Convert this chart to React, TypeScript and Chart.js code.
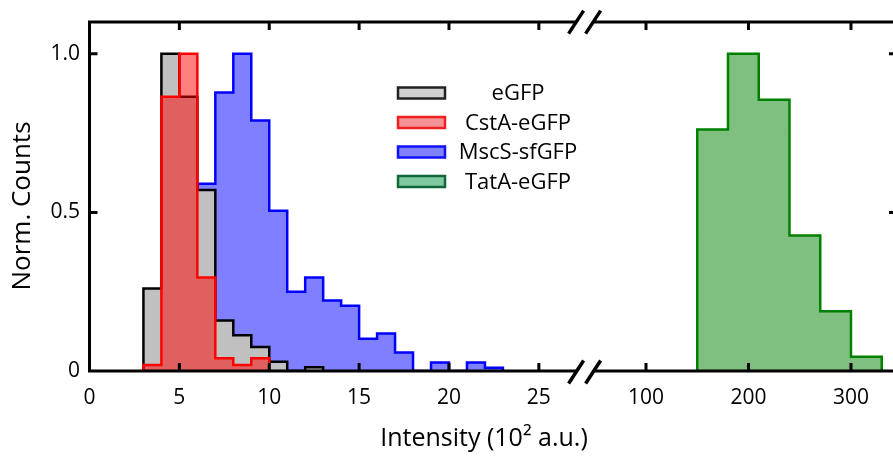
import React, { useEffect, useRef } from 'react';
import { Chart, registerables } from 'chart.js';

Chart.register(...registerables);

// ---------- data ----------
const SERIES_NAMES = ['eGFP', 'CstA-eGFP', 'MscS-sfGFP', 'TatA-eGFP'];

const LOW_BIN_WIDTH = 1;
const EGFP_BIN_START = 3;
const EGFP_COUNTS = [0.26, 1.0, 0.865, 0.571, 0.159, 0.1125, 0.076, 0.029, 0, 0.0115];
const CSTA_BIN_START = 3;
const CSTA_COUNTS = [0.019, 0.865, 1.0, 0.295, 0.04, 0.019, 0.04];
const MSCS_BIN_START = 5;
const MSCS_COUNTS = [0.35, 0.59, 0.878, 1.0, 0.79, 0.505, 0.25, 0.295, 0.222, 0.206, 0.102, 0.118, 0.058, 0, 0.027, 0, 0.027, 0.0105];
const TATA_BIN_START = 150;
const TATA_BIN_WIDTH = 30;
const TATA_COUNTS = [0.761, 1.0, 0.855, 0.427, 0.188, 0.045];

const X_TICKS = [0, 5, 10, 15, 20, 25, 100, 200, 300];
const X_TICK_LABELS = ['0', '5', '10', '15', '20', '25', '100', '200', '300'];
const Y_TICKS = [0, 0.5, 1.0];
const Y_TICK_LABELS = ['0', '0.5', '1.0'];

const X_TITLE = 'Intensity (10² a.u.)';
const Y_TITLE = 'Norm. Counts';

// broken axis: left segment 0..LEFT_MAX, right segment RIGHT_MIN..RIGHT_MAX
const LEFT_MAX = 27.49;
const RIGHT_MIN = 39.13;
const RIGHT_MAX = 341;
const RIGHT_SCALE = 0.05702;

function toU(v: number): number {
  if (v <= LEFT_MAX) return v;
  return LEFT_MAX + (v - RIGHT_MIN) * RIGHT_SCALE;
}
const X_MAX_U = toU(RIGHT_MAX);

function histPoints(start: number, width: number, counts: number[]) {
  const pts: { x: number; y: number }[] = [{ x: toU(start), y: 0 }];
  counts.forEach((c, i) => pts.push({ x: toU(start + i * width), y: c }));
  pts.push({ x: toU(start + counts.length * width), y: 0 });
  return pts;
}

// ---------- styles ----------
const FONT = "'Open Sans', 'DejaVu Sans', sans-serif";
const LINE_COLORS = ['#000000', '#ff0000', '#0000ff', '#008000'];
const FILL_COLORS = ['#c0c0c0', 'rgba(255,0,0,0.5)', 'rgba(0,0,255,0.5)', 'rgba(0,128,0,0.5)'];
const LEGEND_FILLS = ['#d2d2d2', '#f59296', '#8282ff', '#80c8a0'];
const LEGEND_BORDERS = ['#222222', '#ee2020', '#1010ff', '#106838'];
const DRAW_ORDER = [1, 0, 2, 3];

const framePlugin = {
  id: 'frame',
  afterDraw(chart: any) {
    const { ctx, chartArea } = chart;
    const xs = chart.scales.x;
    const ys = chart.scales.y;
    const L = chartArea.left;
    const T = chartArea.top;
    const B = chartArea.bottom;
    const R = chartArea.right;
    const RB = R + 4; // right border sits just outside the canvas
    ctx.save();
    ctx.strokeStyle = '#000';
    ctx.lineWidth = 3;
    ctx.lineCap = 'butt';
    // frame
    ctx.beginPath();
    ctx.moveTo(L, B);
    ctx.lineTo(R + 6, B);
    ctx.moveTo(L, T);
    ctx.lineTo(R + 6, T);
    ctx.moveTo(L, T - 1.5);
    ctx.lineTo(L, B + 1.5);
    ctx.moveTo(RB, T);
    ctx.lineTo(RB, B);
    ctx.stroke();
    // ticks (inward on all four sides)
    const tl = 8;
    ctx.beginPath();
    X_TICKS.forEach((v) => {
      if (v === 0) return;
      const px = xs.getPixelForValue(toU(v));
      ctx.moveTo(px, B);
      ctx.lineTo(px, B - tl);
      ctx.moveTo(px, T);
      ctx.lineTo(px, T + tl);
    });
    Y_TICKS.forEach((v) => {
      if (v === 0) return;
      const py = ys.getPixelForValue(v);
      ctx.moveTo(L, py);
      ctx.lineTo(L + tl, py);
      ctx.moveTo(RB, py);
      ctx.lineTo(RB - tl, py);
    });
    ctx.stroke();
    // axis breaks
    const xb = xs.getPixelForValue(toU(LEFT_MAX)) + 1;
    const hx = 7.5;
    const hy = 11.5;
    const k = hx / hy;
    [B + 1, T].forEach((y) => {
      const c0 = xb - 8.5;
      const c1 = xb + 8.5;
      ctx.fillStyle = '#fff';
      ctx.beginPath();
      ctx.moveTo(c0 + 3 * k, y - 3);
      ctx.lineTo(c1 + 3 * k, y - 3);
      ctx.lineTo(c1 - 3 * k, y + 3);
      ctx.lineTo(c0 - 3 * k, y + 3);
      ctx.closePath();
      ctx.fill();
      ctx.lineWidth = 3.5;
      ctx.beginPath();
      [c0, c1].forEach((c) => {
        ctx.moveTo(c - hx, y + hy);
        ctx.lineTo(c + hx, y - hy);
      });
      ctx.stroke();
    });
    // axis titles
    ctx.fillStyle = '#000';
    ctx.textAlign = 'center';
    ctx.textBaseline = 'middle';
    ctx.font = `25px ${FONT}`;
    ctx.fillText(X_TITLE, 484, 439);
    ctx.save();
    ctx.translate(23, 206);
    ctx.rotate(-Math.PI / 2);
    ctx.font = `26px ${FONT}`;
    ctx.fillText(Y_TITLE, 0, 0);
    ctx.restore();
    // legend
    ctx.font = `22px ${FONT}`;
    SERIES_NAMES.forEach((name, i) => {
      const cy = 93 + 29.5 * i;
      ctx.fillStyle = LEGEND_FILLS[i];
      ctx.fillRect(398, cy - 5.5, 47, 11);
      ctx.strokeStyle = LEGEND_BORDERS[i];
      ctx.lineWidth = 2.5;
      ctx.strokeRect(398, cy - 5.5, 47, 11);
      ctx.fillStyle = '#000';
      ctx.fillText(name, 518, cy + 1);
    });
    ctx.restore();
  },
};

export default function App() {
  const ref = useRef<HTMLCanvasElement | null>(null);
  useEffect(() => {
    if (!ref.current) return;
    Chart.defaults.font.family = FONT;
    const seriesPts = [
      histPoints(EGFP_BIN_START, LOW_BIN_WIDTH, EGFP_COUNTS),
      histPoints(CSTA_BIN_START, LOW_BIN_WIDTH, CSTA_COUNTS),
      histPoints(MSCS_BIN_START, LOW_BIN_WIDTH, MSCS_COUNTS),
      histPoints(TATA_BIN_START, TATA_BIN_WIDTH, TATA_COUNTS),
    ];
    const chart = new Chart(ref.current, {
      type: 'line',
      data: {
        datasets: SERIES_NAMES.map((name, i) => ({
          label: name,
          data: seriesPts[i],
          stepped: 'before' as const,
          borderColor: LINE_COLORS[i],
          backgroundColor: FILL_COLORS[i],
          borderWidth: 2.5,
          borderJoinStyle: 'miter' as const,
          pointRadius: 0,
          fill: 'origin',
          order: DRAW_ORDER[i],
        })),
      },
      options: {
        animation: false,
        responsive: false,
        parsing: false as any,
        layout: { padding: { top: 19.5, right: 0, left: 0, bottom: 0 } },
        plugins: { legend: { display: false }, tooltip: { enabled: false } },
        scales: {
          x: {
            type: 'linear',
            min: 0,
            max: X_MAX_U,
            grid: { display: false, drawTicks: false },
            border: { display: false },
            afterBuildTicks: (s: any) => {
              s.ticks = X_TICKS.map((v) => ({ value: toU(v) }));
            },
            afterFit: (s: any) => {
              s.height = 88;
            },
            ticks: {
              callback: (_v: any, i: number) => X_TICK_LABELS[i],
              font: { size: 21, family: FONT },
              color: '#000',
              padding: 14,
              maxRotation: 0,
              autoSkip: false,
            },
            title: { display: false },
          },
          y: {
            type: 'linear',
            min: 0,
            max: 1.1,
            grid: { display: false, drawTicks: false },
            border: { display: false },
            afterBuildTicks: (s: any) => {
              s.ticks = Y_TICKS.map((v) => ({ value: v }));
            },
            afterFit: (s: any) => {
              s.width = 89.5;
            },
            ticks: {
              callback: (_v: any, i: number) => Y_TICK_LABELS[i],
              font: { size: 21, family: FONT },
              color: '#000',
              padding: 9.5,
              autoSkip: false,
            },
            title: { display: false },
          },
        },
      },
      plugins: [framePlugin],
    });
    return () => chart.destroy();
  }, []);
  return (
    <div style={{ position: 'absolute', left: 0, top: 0, width: 893, height: 459, background: '#fff' }}>
      <canvas ref={ref} width={893} height={459} style={{ display: 'block' }} />
    </div>
  );
}
